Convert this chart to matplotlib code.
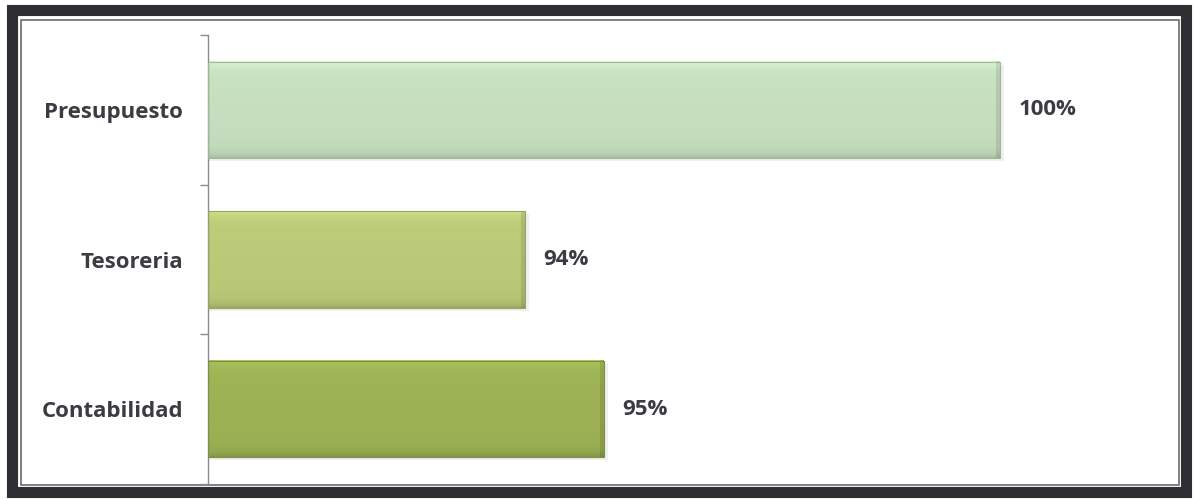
import numpy as np
import matplotlib
matplotlib.use("Agg")
import matplotlib.pyplot as plt
from matplotlib.patches import Rectangle
from matplotlib.colors import to_rgb

plt.rcParams['font.family'] = ['Open Sans', 'DejaVu Sans']

# === DATA
areas = ["Presupuesto", "Tesoreria", "Contabilidad"]
avance = [100, 94, 95]
colores = ["#c9e2c2", "#bccd7a", "#9fb455"]

W, H = 1194, 499
fig = plt.figure(figsize=(W / 100, H / 100), dpi=100)
fig.patch.set_facecolor("white")

# frame around the chart (pixel coords)
frame = fig.add_axes([0, 0, 1, 1])
frame.set_xlim(0, W)
frame.set_ylim(H, 0)
frame.axis("off")
frame.add_patch(Rectangle((12, 10), 1174, 482, fill=False, ec="#2e2e33", lw=8))
frame.add_patch(Rectangle((20.5, 19.5), 1158, 465, fill=False, ec="#6a6a70", lw=1.2))

# === BAR CHART
x0, x100 = 208, 1000          # pixel position of 90% and 100%
y_top, y_bot = 35, 484
right = 1150
px_per_unit = (x100 - x0) / 10
ax = fig.add_axes([x0 / W, 1 - y_bot / H, (right - x0) / W, (y_bot - y_top) / H])
ax.patch.set_alpha(0)
xmin = 90
xmax = xmin + (right - x0) / px_per_unit

h = 0.645
for i, (val, col) in enumerate(zip(avance, colores)):
    base = np.array(to_rgb(col))
    # vertical shading: light top bevel, darker bottom
    t = np.linspace(0, 1, 80)
    shade = 1.0 + 0.10 * np.exp(-t / 0.06) - 0.13 * np.exp(-(1 - t) / 0.05) - 0.03 * t
    img = np.clip(base[None, None, :] * shade[:, None, None], 0, 1)
    n = int((val - xmin) * px_per_unit)
    img = np.repeat(img, n, axis=1)
    # darker right end cap, a few pixels wide
    img[:, n - 4:, :] *= 0.9
    # soft shadow under the bar
    ax.add_patch(Rectangle((xmin, i - h / 2 + 0.02), val - xmin + 0.05, h, fc="#000000",
                           alpha=0.06, lw=0, zorder=1))
    ax.imshow(img, extent=(xmin, val, i + h / 2, i - h / 2), aspect="auto",
              interpolation="bilinear", zorder=2)
    ax.add_patch(Rectangle((xmin, i - h / 2), val - xmin, h, fill=False,
                           ec=base * 0.8, lw=0.8, zorder=3))
    ax.text(val + 0.23, i, f"{val}%", va="center", ha="left", fontsize=16,
            fontweight="bold", color="#3b3b42")

ax.set_xlim(xmin, xmax)
ax.set_ylim(2.5, -0.5)
ax.set_yticks(range(len(areas)))
ax.set_yticklabels(areas, fontsize=16, fontweight="bold", color="#3b3b42")
ax.set_yticks([-0.5, 0.5, 1.5, 2.5], minor=True)
ax.tick_params(axis="y", which="major", length=0, pad=18)
ax.tick_params(axis="y", which="minor", length=6, color="#8a8a95", width=1)
ax.set_xticks([])
for s in ["top", "right", "bottom"]:
    ax.spines[s].set_visible(False)
ax.spines["left"].set_color("#8a8a95")
ax.spines["left"].set_linewidth(1)

fig.savefig("out.png", dpi=100, facecolor="white")
